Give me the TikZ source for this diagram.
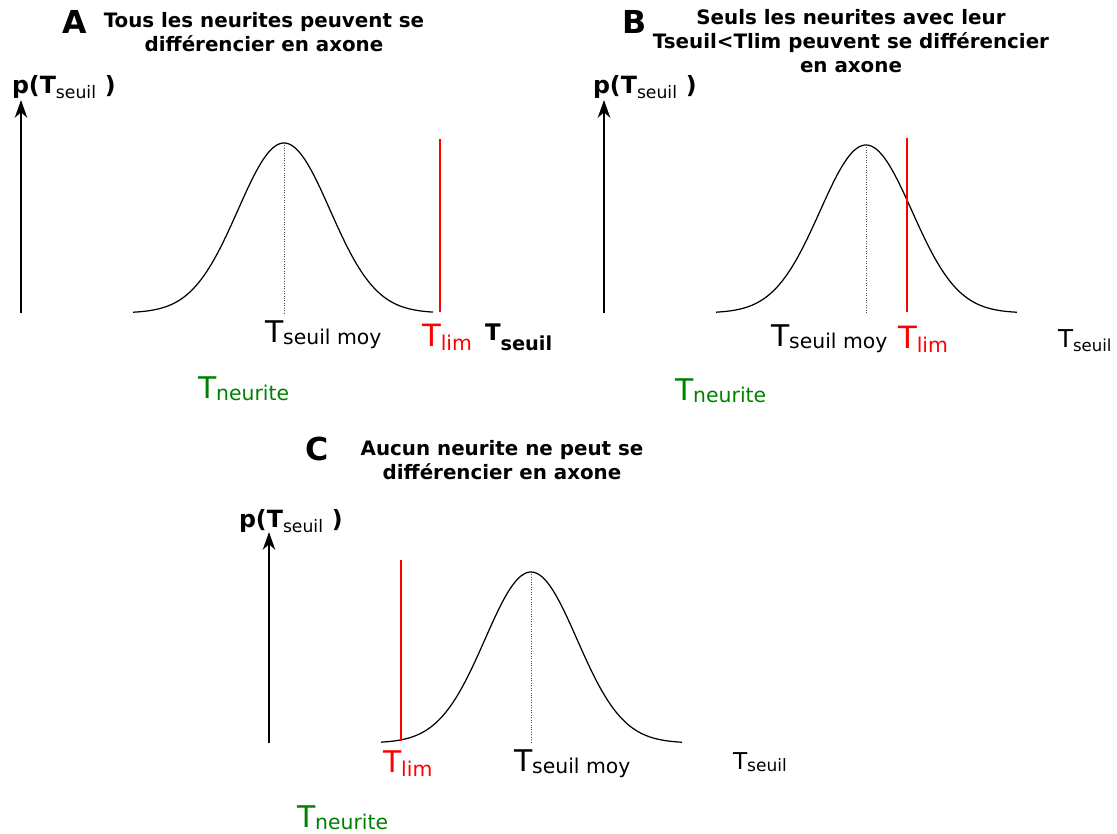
\documentclass[tikz,border=0pt]{standalone}
\usepackage{fontspec}
\setmainfont{DejaVu Sans}
\usetikzlibrary{arrows.meta}
\definecolor{limred}{RGB}{255,0,0}
\definecolor{neurgreen}{RGB}{0,128,0}
% T with a lowered subscript: #1 size of T, #2 size of subscript, #3 drop, #4 subscript text
\newcommand\tlab[4]{{\fontsize{#1}{#1}\selectfont T}\raisebox{-#3}{\fontsize{#2}{#2}\selectfont #4}}
\newcommand\tlabbf[4]{{\fontsize{#1}{#1}\selectfont\bfseries T}\raisebox{-#3}{\fontsize{#2}{#2}\selectfont\bfseries #4}}
\newcommand\ptseuil{{\fontsize{13.5}{13.5}\selectfont\bfseries p(T}\raisebox{-3.4pt}{\fontsize{9.8}{9.8}\selectfont seuil}\hspace{5pt}{\fontsize{13.5}{13.5}\selectfont\bfseries )}}
\tikzset{
  lbl/.style={inner sep=0pt, outer sep=0pt, anchor=base west},
  panel/.style={lbl, font=\fontsize{18}{18}\selectfont\bfseries},
  ttl/.style={inner sep=0pt, outer sep=0pt, anchor=north, align=center, font=\fontsize{11.3}{13.6}\selectfont\bfseries},
  yaxis/.style={line width=1.5pt, -{Stealth[length=10pt,width=7pt,inset=3pt]}},
  gauss/.style={line width=0.7pt},
  meanline/.style={densely dotted, line width=0.4pt, black!70},
  limline/.style={limred, line width=1.7pt},
}
\begin{document}
\begin{tikzpicture}[x=0.02cm, y=-0.02cm]
\path[use as bounding box] (0,0) rectangle (1117,833);

% ================= Panel A =================
\node[panel] (letA) at (62,33) {A};
\node[ttl] (titA) at (264,12.6) {Tous les neurites peuvent se\\différencier en axone};
\node[lbl] (pA) at (12,93) {\ptseuil};
\coordinate (axA0) at (21,313);
\coordinate (axA1) at (21,100);
\draw[yaxis] (axA0) -- (axA1);
\draw[gauss] plot[domain=-151:149, samples=121, smooth] ({284+\x},{313-170*exp(-0.5*(\x/46)*(\x/46))});
\coordinate (pkA) at (284,143);
\coordinate (bsA) at (284,313);
\draw[meanline] (pkA) -- (bsA);
\coordinate (limA0) at (440,139);
\coordinate (limA1) at (440,312);
\draw[limline] (limA0) -- (limA1);
\node[lbl] (moyA) at (265,342) {\tlab{17}{11.6}{1.2pt}{seuil moy}};
\node[lbl, text=limred] (limA) at (422,346) {\tlab{17.5}{11.6}{2.8pt}{lim}};
\node[lbl] (seuilA) at (485,340) {\tlabbf{13}{11}{5.7pt}{seuil}};
\node[lbl, text=neurgreen] (neurA) at (198,398) {\tlab{17}{11.6}{1.2pt}{neurite}};

% ================= Panel B =================
\node[panel] (letB) at (622,33) {B};
\node[ttl] (titB) at (851,9.6) {Seuls les neurites avec leur\\Tseuil<Tlim peuvent se différencier\\en axone};
\node[lbl] (pB) at (593,93) {\ptseuil};
\coordinate (axB0) at (604,313);
\coordinate (axB1) at (604,100);
\draw[yaxis] (axB0) -- (axB1);
\draw[gauss] plot[domain=-150:151, samples=121, smooth] ({866+\x},{313-168*exp(-0.5*(\x/46)*(\x/46))});
\coordinate (pkB) at (866,145);
\coordinate (bsB) at (866,313);
\draw[meanline] (pkB) -- (bsB);
\coordinate (limB0) at (907,138);
\coordinate (limB1) at (907,312);
\draw[limline] (limB0) -- (limB1);
\node[lbl] (moyB) at (771,346) {\tlab{17}{11.6}{1.2pt}{seuil moy}};
\node[lbl, text=limred] (limB) at (898,348) {\tlab{17.5}{11.6}{2.3pt}{lim}};
\node[lbl] (seuilB) at (1058,347) {\tlab{14}{9.4}{2.8pt}{seuil}};
\node[lbl, text=neurgreen] (neurB) at (675,400) {\tlab{17}{11.6}{1.2pt}{neurite}};

% ================= Panel C =================
\node[panel] (letC) at (305,460) {C};
\node[ttl] (titC) at (502,440.5) {Aucun neurite ne peut se\\différencier en axone};
\node[lbl] (pC) at (239,527) {\ptseuil};
\coordinate (axC0) at (269,743);
\coordinate (axC1) at (269,532);
\draw[yaxis] (axC0) -- (axC1);
\draw[gauss] plot[domain=-150:151, samples=121, smooth] ({531+\x},{743-171*exp(-0.5*(\x/46)*(\x/46))});
\coordinate (pkC) at (531,572);
\coordinate (bsC) at (531,743);
\draw[meanline] (pkC) -- (bsC);
\coordinate (limC0) at (401,560);
\coordinate (limC1) at (401,741);
\draw[limline] (limC0) -- (limC1);
\node[lbl, text=limred] (limC) at (383,772) {\tlab{17}{11.6}{2.8pt}{lim}};
\node[lbl] (moyC) at (514,771) {\tlab{17}{11.6}{1.2pt}{seuil moy}};
\node[lbl] (seuilC) at (733,769) {\tlab{13.2}{9.7}{1.7pt}{seuil}};
\node[lbl, text=neurgreen] (neurC) at (297,827) {\tlab{17}{11.6}{1.2pt}{neurite}};
\end{tikzpicture}
\end{document}
